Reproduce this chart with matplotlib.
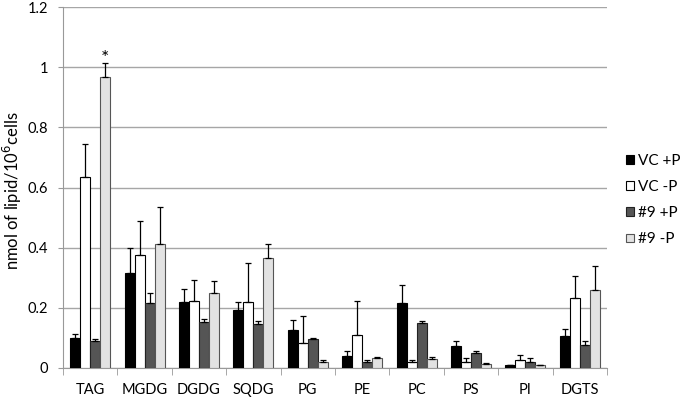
import numpy as np
import matplotlib
matplotlib.use('Agg')
import matplotlib.pyplot as plt

# Lipid classes and group means / upper error (nmol per 10^6 cells)
lipids = ['TAG', 'MGDG', 'DGDG', 'SQDG', 'PG', 'PE', 'PC', 'PS', 'PI', 'DGTS']

vc_plus = [0.099, 0.316, 0.219, 0.192, 0.126, 0.038, 0.217, 0.072, 0.009, 0.104]
vc_plus_err = [0.012, 0.082, 0.043, 0.026, 0.032, 0.018, 0.057, 0.018, 0.0, 0.026]
vc_minus = [0.634, 0.376, 0.222, 0.219, 0.081, 0.108, 0.020, 0.020, 0.024, 0.231]
vc_minus_err = [0.111, 0.113, 0.070, 0.131, 0.090, 0.115, 0.006, 0.011, 0.018, 0.075]
n9_plus = [0.088, 0.214, 0.152, 0.144, 0.096, 0.018, 0.148, 0.048, 0.018, 0.074]
n9_plus_err = [0.009, 0.034, 0.011, 0.012, 0.004, 0.008, 0.009, 0.009, 0.015, 0.014]
n9_minus = [0.967, 0.411, 0.249, 0.364, 0.018, 0.032, 0.028, 0.011, 0.008, 0.259]
n9_minus_err = [0.049, 0.123, 0.041, 0.048, 0.008, 0.004, 0.008, 0.005, 0.0, 0.079]

series_names = ['VC +P', 'VC -P', '#9 +P', '#9 -P']

plt.rcParams['font.family'] = ['Lato', 'DejaVu Sans']

fig = plt.figure(figsize=(6.8, 4.01), dpi=100)
ax = fig.add_axes([63 / 680, 33.3 / 401, 544 / 680, 360.4 / 401])

x = np.arange(len(lipids))
w = 0.184
faces = ['#000000', '#ffffff', '#555555', '#e2e2e2']
edges = ['#000000', '#000000', '#222222', '#555555']
vals = [vc_plus, vc_minus, n9_plus, n9_minus]
errs = [vc_plus_err, vc_minus_err, n9_plus_err, n9_minus_err]

for i in range(4):
    pos = x + (i - 1.5) * w
    ax.bar(pos, vals[i], w, color=faces[i], edgecolor=edges[i], linewidth=0.8,
           yerr=[np.zeros(len(lipids)), errs[i]],
           error_kw=dict(ecolor='black', elinewidth=0.9, capsize=2.2, capthick=0.9),
           label=series_names[i], zorder=3)

# significance mark over TAG #9 -P
ax.text(x[0] + 1.5 * w, n9_minus[0] + n9_minus_err[0] - 0.006, '*',
        ha='center', va='baseline', fontsize=14)

ax.set_xlim(-0.5, len(lipids) - 0.5)
ax.set_ylim(0, 1.2)
ax.set_yticks([0, 0.2, 0.4, 0.6, 0.8, 1.0, 1.2])
ax.set_yticklabels(['0', '0.2', '0.4', '0.6', '0.8', '1', '1.2'])
ax.yaxis.grid(True, color='#a6a6a6', linewidth=1)
ax.set_axisbelow(True)

ax.set_xticks(x)
ax.set_xticklabels(lipids)
ax.set_xticks(np.arange(len(lipids) + 1) - 0.5, minor=True)
ax.tick_params(axis='x', which='major', length=0, pad=11, labelsize=10.5)
ax.tick_params(axis='x', which='minor', length=5, color='#999999', direction='out')
ax.tick_params(axis='y', length=3.6, color='#999999', labelsize=10.5, pad=7)

for s in ['top', 'right']:
    ax.spines[s].set_visible(False)
ax.spines['left'].set_color('#999999')
ax.spines['bottom'].set_color('#999999')

fig.text(12 / 680, 1 - 191 / 401, 'nmol of lipid/10$^6$cells', rotation=90,
         ha='center', va='center', fontsize=12)

ax.legend(loc='center left', bbox_to_anchor=(1.01, 0.465), frameon=False,
          fontsize=11, handlelength=0.5, handleheight=0.5, handletextpad=0.25,
          labelspacing=0.8)

plt.savefig('out.png', dpi=100)
